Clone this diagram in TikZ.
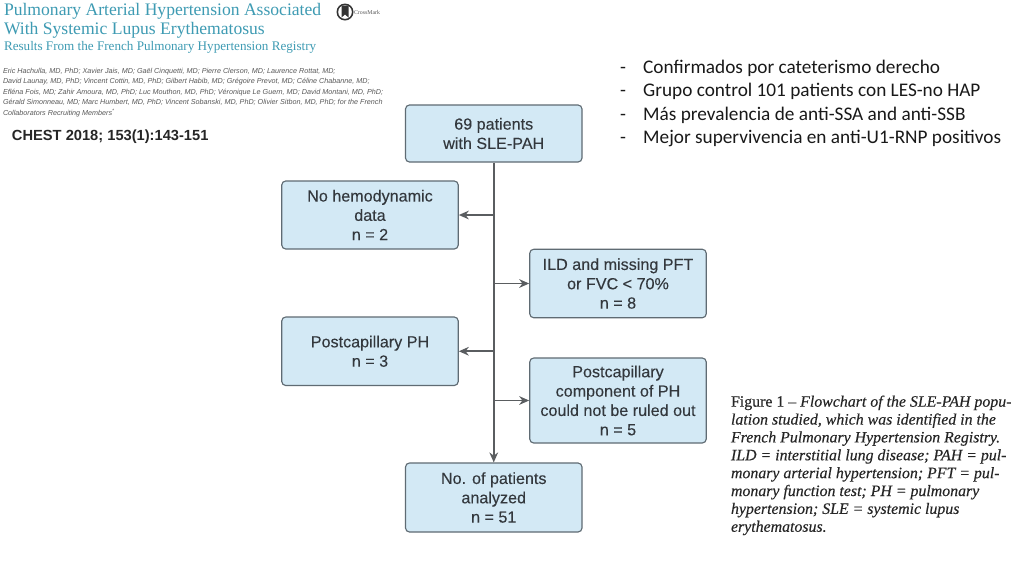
\documentclass[tikz,border=0pt]{standalone}
\usepackage{fontspec}
\setmainfont{Liberation Sans}
\newfontfamily\serifx{Liberation Serif}
\newfontfamily\serifb[FakeBold=0.25]{Liberation Serif}
\newfontfamily\calib{Carlito}
\newfontfamily\flowf[FakeBold=0.12]{Liberation Sans}
\usetikzlibrary{arrows.meta}
\definecolor{boxfill}{HTML}{D3E9F5}
\definecolor{boxline}{HTML}{5F6B73}
\definecolor{flowtext}{HTML}{33383D}
\definecolor{teal1}{HTML}{3E9BB3}
\definecolor{arrowc}{HTML}{5A5D60}
\tikzset{
  x=0.75pt,y=-0.75pt,
  flow/.style={draw=boxline,line width=0.85pt,fill=boxfill,rounded corners=3pt,inner sep=0pt,text=flowtext,align=center,font=\flowf\fontsize{12.1}{14.5}\selectfont},
  conn/.style={draw=arrowc,line width=1.25pt},
  arr/.style={conn,-{Stealth[length=7.5pt,width=6.5pt]}},
  plain/.style={inner sep=0pt,outer sep=0pt,anchor=north west,align=left},
}
\newcommand{\flowbox}[5]{\node[flow,minimum width=#3*0.75pt,minimum height=#4*0.75pt] (#1) at (#2) {#5};}
\begin{document}
\begin{tikzpicture}
\useasboundingbox[fill=white] (0,0) rectangle (1024,576);
% titles
\node[plain,text=teal1,font=\serifx\fontsize{13.2}{14.3}\selectfont] (t1) at (4,3) {Pulmonary Arterial Hypertension Associated\\With Systemic Lupus Erythematosus};
\node[plain,text=teal1,font=\serifx\fontsize{9.85}{12}\selectfont] (t2) at (4,41) {Results From the French Pulmonary Hypertension Registry};
\node[plain,text=black!65,font=\itshape\fontsize{5.4}{7.9}\selectfont] (auth) at (3,68) {Eric Hachulla, MD, PhD; Xavier Jais, MD; Gaël Cinquetti, MD; Pierre Clerson, MD; Laurence Rottat, MD;\\David Launay, MD, PhD; Vincent Cottin, MD, PhD; Gilbert Habib, MD; Grégoire Prevot, MD; Céline Chabanne, MD;\\Efléna Fois, MD; Zahir Amoura, MD, PhD; Luc Mouthon, MD, PhD; Véronique Le Guern, MD; David Montani, MD, PhD;\\Gérald Simonneau, MD; Marc Humbert, MD, PhD; Vincent Sobanski, MD, PhD; Olivier Sitbon, MD, PhD; for the French\\Collaborators Recruiting Members\textsuperscript{*}};
\node[plain,text=black!85,font=\bfseries\fontsize{11}{12}\selectfont] (chest) at (12,130) {CHEST 2018; 153(1):143-151};
% crossmark
\fill[black!80] (345,12) circle (8.5);
\fill[white] (345,12) circle (6.8);
\fill[black!80] (341.5,5.5) -- (348.5,5.5) -- (348.5,17.5) -- (345,14.5) -- (341.5,17.5) -- cycle;
\node[plain,text=black!65,font=\serifx\fontsize{4.4}{5}\selectfont] (cm) at (354,10) {CrossMark};
% bullets
\node[plain,text=black!90,font=\calib\fontsize{14.45}{17.6}\selectfont] (list) at (620,60) {\makebox[17.4pt][l]{-}Confirmados por cateterismo derecho\\\makebox[17.4pt][l]{-}Grupo control 101 patients con LES-no HAP\\\makebox[17.4pt][l]{-}Más prevalencia de anti-SSA and anti-SSB\\\makebox[17.4pt][l]{-}Mejor supervivencia en anti-U1-RNP positivos};
% boxes
\flowbox{a}{493.75,133.5}{176.5}{57}{69 patients\\with SLE-PAH}
\flowbox{b}{370,215}{176.5}{68}{No hemodynamic\\data\\n = 2}
\flowbox{c}{618,283.5}{176.5}{68.5}{ILD and missing PFT\\or FVC < 70\%\\n = 8}
\flowbox{d}{370,351.25}{176.5}{68.5}{Postcapillary PH\\n = 3}
\flowbox{e}{618,400.5}{176.5}{85}{Postcapillary\\component of PH\\could not be ruled out\\n = 5}
\flowbox{f}{493.75,497.5}{176.5}{69}{No. of patients\\analyzed\\n = 51}
% connectors
\draw[arr] (a.south) -- (f.north);
\coordinate (j1) at (a.south |- b.east);
\coordinate (j2) at (a.south |- c.west);
\coordinate (j3) at (a.south |- d.east);
\coordinate (j4) at (a.south |- e.west);
\draw[arr] (j1) -- (b.east);
\draw[arr] (j2) -- (c.west);
\draw[arr] (j3) -- (d.east);
\draw[arr] (j4) -- (e.west);
% caption
\node[plain,text=black!85,font=\serifb\fontsize{11.9}{13.4}\selectfont] (cap) at (731,395.5) {Figure 1 – \textit{Flowchart of the SLE-PAH popu-}\\\textit{lation studied, which was identified in the}\\\textit{French Pulmonary Hypertension Registry.}\\\textit{ILD = interstitial lung disease; PAH = pul-}\\\textit{monary arterial hypertension; PFT = pul-}\\\textit{monary function test; PH = pulmonary}\\\textit{hypertension; SLE = systemic lupus}\\\textit{erythematosus.}};
\end{tikzpicture}
\end{document}
